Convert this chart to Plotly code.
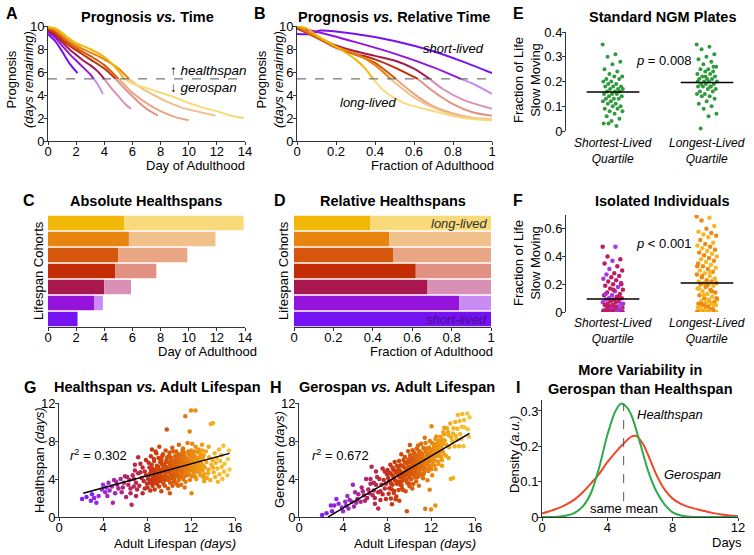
import numpy as np
import plotly.graph_objects as go

W, H = 754, 555
FONT = "Liberation Sans, Arial, Helvetica, sans-serif"
AX = "#333333"

# ---------------- cohort data ----------------
cohort_names = ["violet", "purple", "crimson", "red", "dark orange", "orange", "yellow"]
dark_colors = ["#7412F2", "#9414DC", "#A8184E", "#C22D06", "#D4570C", "#E6840F", "#F2B807"]
light_colors = ["#B98AF5", "#C88CF2", "#D890B5", "#E29282", "#E9A684", "#F1C18B", "#F8DA7A"]
threshold = 5.4

# Panel A: prognosis vs day of adulthood
a_days_violet = [0, 0.5, 1.0, 1.5, 2.1]
a_prog_violet = [9.3, 8.7, 7.8, 6.8, 5.9]
a_days_purple = [0, 0.5, 1, 1.5, 2, 2.5, 3, 3.5, 3.9]
a_prog_purple = [9.5, 9.0, 8.3, 7.6, 7.0, 6.4, 5.8, 5.0, 4.1]
a_days_crimson = [0, 0.5, 1, 1.5, 2, 2.5, 3, 3.5, 4, 4.5, 5, 5.5, 5.9]
a_prog_crimson = [9.6, 9.2, 8.6, 8.0, 7.5, 7.0, 6.6, 6.1, 5.4, 4.6, 3.9, 3.2, 2.8]
a_days_red = [0, 0.5, 1, 1.5, 2, 3, 4, 4.8, 5.5, 6, 6.5, 7, 7.8]
a_prog_red = [9.7, 9.4, 8.8, 8.3, 7.9, 7.1, 6.3, 5.4, 4.5, 3.9, 3.3, 2.8, 2.2]
a_days_dkorange = [0, 0.5, 1, 1.5, 2, 3, 4, 5, 5.5, 6, 7, 8, 9, 10]
a_prog_dkorange = [9.8, 9.5, 9.0, 8.5, 8.1, 7.4, 6.6, 5.4, 4.8, 4.2, 3.3, 2.6, 2.1, 1.8]
a_days_orange = [0, 0.5, 1, 1.5, 2, 3, 4, 5, 5.75, 6.5, 7.5, 8.5, 9.5, 10.5, 11.9]
a_prog_orange = [9.9, 9.7, 9.2, 8.7, 8.3, 7.7, 7.1, 6.3, 5.4, 4.7, 4.0, 3.4, 2.9, 2.6, 2.2]
a_days_yellow = [0, 0.5, 1, 1.5, 2, 3, 4, 5, 5.4, 6, 7, 8, 9, 10, 11, 12, 13, 13.9]
a_prog_yellow = [9.9, 9.8, 9.4, 8.9, 8.5, 8.0, 7.3, 6.1, 5.4, 5.0, 4.6, 4.2, 3.8, 3.3, 2.9, 2.6, 2.2, 2.0]

# Panel B: prognosis vs fraction of adulthood
b_frac_violet = [0, 0.07, 0.12, 0.3, 0.5, 0.7, 0.85, 1.0]
b_prog_violet = [9.3, 9.3, 9.6, 9.3, 8.7, 7.8, 6.9, 5.9]
b_frac_purple = [0, 0.1, 0.3, 0.5, 0.7, 0.84, 0.9, 1.0]
b_prog_purple = [9.8, 9.5, 8.6, 7.6, 6.4, 5.4, 5.0, 4.1]
b_frac_crimson = [0, 0.1, 0.2, 0.3, 0.4, 0.5, 0.6, 0.68, 0.75, 0.85, 1.0]
b_prog_crimson = [9.8, 9.1, 8.3, 7.8, 7.4, 7.0, 6.3, 5.4, 4.5, 3.6, 2.8]
b_frac_red = [0, 0.1, 0.2, 0.3, 0.4, 0.5, 0.56, 0.62, 0.7, 0.8, 0.9, 1.0]
b_prog_red = [9.8, 9.0, 8.2, 7.6, 7.1, 6.4, 5.9, 5.4, 4.3, 3.2, 2.5, 2.2]
b_frac_dkorange = [0, 0.1, 0.2, 0.3, 0.4, 0.5, 0.6, 0.7, 0.8, 0.9, 1.0]
b_prog_dkorange = [9.9, 9.0, 8.1, 7.5, 6.8, 5.5, 4.1, 3.0, 2.4, 2.0, 1.8]
b_frac_orange = [0, 0.1, 0.2, 0.3, 0.4, 0.48, 0.6, 0.7, 0.8, 0.9, 1.0]
b_prog_orange = [10.0, 9.1, 8.2, 7.6, 6.6, 5.4, 3.8, 2.9, 2.3, 2.0, 1.9]
b_frac_yellow = [0, 0.05, 0.1, 0.2, 0.3, 0.35, 0.39, 0.45, 0.55, 0.7, 0.85, 1.0]
b_prog_yellow = [10.0, 9.8, 9.2, 8.2, 7.1, 6.3, 5.4, 4.3, 3.3, 2.6, 2.0, 1.8]

# Panels C/D: healthspan and lifespan of each cohort (days)
cohort_healthspan = [2.1, 3.27, 4.0, 4.76, 5.0, 5.75, 5.4]
cohort_lifespan = [2.1, 3.9, 5.9, 7.7, 9.9, 11.9, 13.9]

# Panel E: fraction of life slow moving (standard NGM plates)
e_shortest = [0.35, 0.31, 0.30, 0.28, 0.27, 0.25, 0.24, 0.23, 0.22, 0.22, 0.21, 0.21, 0.20, 0.20,
              0.19, 0.19, 0.18, 0.18, 0.18, 0.17, 0.17, 0.17, 0.16, 0.16, 0.16, 0.15, 0.15, 0.15,
              0.14, 0.14, 0.13, 0.13, 0.13, 0.12, 0.12, 0.11, 0.11, 0.10, 0.10, 0.09, 0.09, 0.08,
              0.08, 0.07, 0.06, 0.05, 0.04, 0.03, 0.02, 0.03]
e_longest = [0.35, 0.34, 0.33, 0.31, 0.30, 0.29, 0.28, 0.27, 0.26, 0.25, 0.25, 0.24, 0.24, 0.23,
             0.23, 0.22, 0.22, 0.21, 0.21, 0.21, 0.20, 0.20, 0.20, 0.19, 0.19, 0.19, 0.18, 0.18,
             0.18, 0.17, 0.17, 0.16, 0.16, 0.15, 0.15, 0.14, 0.14, 0.13, 0.12, 0.11, 0.10, 0.09,
             0.07, 0.06, 0.01, 0.26, 0.22, 0.20, 0.18]
e_medians = [0.158, 0.196]

# Panel F: isolated individuals
f_shortest = [0.47, 0.47, 0.40, 0.38, 0.37, 0.35, 0.33, 0.31, 0.30, 0.28, 0.27, 0.26, 0.25, 0.24,
              0.23, 0.22, 0.21, 0.20, 0.19, 0.18, 0.17, 0.16, 0.15, 0.14, 0.13, 0.12, 0.12, 0.11,
              0.10, 0.10, 0.09, 0.09, 0.08, 0.08, 0.07, 0.07, 0.06, 0.06, 0.05, 0.05, 0.04, 0.04,
              0.03, 0.03, 0.02, 0.02, 0.02, 0.01, 0.01, 0.01, 0.20, 0.16, 0.13, 0.11, 0.08, 0.06,
              0.04, 0.03, 0.02, 0.01, 0, 0, 0, 0, 0, 0, 0, 0, 0, 0, 0, 0, 0, 0, 0, 0, 0, 0, 0,
              0, 0, 0, 0, 0, 0]
f_longest = [0.69, 0.68, 0.66, 0.62, 0.60, 0.58, 0.57, 0.56, 0.55, 0.54, 0.52, 0.50, 0.49, 0.48,
             0.47, 0.46, 0.45, 0.44, 0.43, 0.42, 0.41, 0.40, 0.39, 0.38, 0.37, 0.36, 0.35, 0.34,
             0.33, 0.32, 0.31, 0.30, 0.29, 0.28, 0.27, 0.26, 0.25, 0.24, 0.23, 0.22, 0.22, 0.21,
             0.21, 0.20, 0.20, 0.19, 0.18, 0.17, 0.16, 0.15, 0.14, 0.13, 0.12, 0.11, 0.10, 0.09,
             0.08, 0.08, 0.07, 0.07, 0.06, 0.06, 0.05, 0.05, 0.04, 0.03, 0.02, 0.01, 0.33, 0.29,
             0.26, 0.24, 0.19, 0.17, 0.15, 0.12, 0.10, 0.09, 0.06, 0.05, 0.04, 0.03, 0.02, 0.01,
             0, 0, 0, 0, 0, 0, 0, 0, 0, 0, 0, 0, 0, 0, 0, 0, 0, 0, 0, 0]
f_medians = [0.094, 0.21]
quartile_labels = ["Shortest-Lived<br>Quartile", "Longest-Lived<br>Quartile"]

# Panels G/H: individual adult lifespans and healthspans (days)
lifespan_days = [
    2.1, 2.5, 2.9, 3.2, 3.4, 3.6, 3.9, 4.0, 4.2, 4.3,
    4.5, 4.6, 4.8, 5.0, 5.1, 5.3, 5.4, 5.6, 5.7, 5.9,
    6.0, 6.1, 3.0, 4.4, 5.2, 4.9, 5.8, 6.3, 6.5, 6.6,
    6.2, 6.4, 6.7, 6.8, 6.9, 7.0, 7.1, 7.2, 7.3, 7.4,
    7.5, 7.6, 7.7, 7.8, 7.9, 7.2, 6.9, 7.6, 7.8, 6.5,
    7.0, 7.4, 7.9, 8.0, 6.8, 8.1, 8.15, 8.05, 8.3, 8.35,
    8.25, 8.3, 8.5, 8.55, 8.45, 8.5, 8.7, 8.75, 8.65, 8.7,
    8.9, 8.95, 8.85, 8.9, 9.1, 9.15, 9.05, 9.1, 9.12, 9.3,
    9.35, 9.25, 9.3, 9.32, 9.5, 9.55, 9.45, 9.5, 9.52, 9.7,
    9.75, 9.65, 9.7, 9.72, 9.8, 9.9, 9.95, 9.85, 9.9, 9.92,
    10.1, 10.15, 10.05, 10.1, 10.12, 10.08, 10.3, 10.35, 10.25, 10.3,
    10.32, 10.28, 10.5, 10.55, 10.45, 10.5, 10.52, 10.48, 10.7, 10.75,
    10.65, 10.7, 10.72, 10.68, 10.9, 10.95, 10.85, 10.9, 10.92, 10.88,
    11.1, 11.15, 11.05, 11.1, 11.12, 11.08, 11.3, 11.35, 11.25, 11.3,
    11.32, 11.28, 11.5, 11.55, 11.45, 11.5, 11.52, 11.48, 11.7, 11.75,
    11.65, 11.7, 11.72, 11.68, 11.9, 11.95, 11.85, 11.9, 11.92, 11.88,
    12.0, 12.05, 11.98, 12.02, 12.2, 12.25, 12.15, 12.2, 12.22, 12.4,
    12.45, 12.35, 12.4, 12.42, 12.38, 12.6, 12.65, 12.55, 12.6, 12.8,
    12.85, 12.75, 12.8, 13.0, 13.05, 12.95, 13.0, 13.2, 13.25, 13.15,
    13.2, 13.4, 13.45, 13.35, 13.6, 13.65, 13.55, 13.6, 13.8, 13.85,
    13.75, 14.0, 14.05, 13.95, 14.0, 14.2, 14.25, 14.15, 14.4, 14.45,
    14.35, 14.6, 14.65, 14.55, 14.8, 14.85, 14.75, 15.0, 15.05, 14.95,
    15.3, 15.35, 15.5, 15.45, 8.2, 8.22, 8.4, 8.42, 8.38, 8.6,
    8.62, 8.58, 8.8, 8.82, 8.78, 9.0, 9.02, 8.98, 9.2, 9.22,
    9.18, 9.4, 9.42, 9.38, 9.6, 9.62, 9.58, 9.8, 9.82, 9.78,
    10.0, 10.02, 9.98, 10.03, 10.2, 10.22, 10.18, 10.4, 10.42, 10.38,
    10.43, 10.6, 10.62, 10.58, 10.63, 10.8, 10.82, 10.78, 10.83, 11.0,
    11.02, 10.98, 11.03, 11.2, 11.22, 11.18, 11.23, 11.4, 11.42, 11.38,
    11.43, 11.6, 11.62, 11.58, 11.8, 11.82, 11.78, 12.1, 12.12, 12.08,
    12.3, 12.32, 12.28, 12.5, 12.52, 12.48, 12.7, 12.72, 12.68, 12.9,
    12.92, 13.1, 13.12, 13.08, 9.6, 10.4, 11.0, 11.6, 12.1, 13.0,
]
healthspan_days = [
    1.9, 2.1, 1.7, 2.0, 1.5, 2.2, 2.9, 3.4, 2.6, 3.1,
    3.6, 2.8, 3.2, 3.9, 2.5, 3.4, 3.0, 4.0, 2.6, 3.6,
    4.3, 2.1, 2.4, 2.2, 3.7, 1.5, 3.1, 3.4, 2.5, 1.3,
    4.2, 3.9, 4.4, 3.2, 4.9, 3.6, 2.9, 4.6, 3.3, 5.6,
    4.1, 2.5, 3.8, 4.8, 6.0, 6.3, 5.5, 5.2, 3.0, 3.0,
    2.2, 4.7, 4.4, 3.5, 4.0, 4.0, 5.7, 3.1, 4.6, 6.4,
    3.6, 2.8, 5.1, 4.2, 7.1, 3.3, 4.8, 3.9, 5.9, 2.9,
    5.4, 4.4, 6.7, 3.5, 4.1, 5.0, 6.2, 3.2, 7.4, 4.7,
    5.6, 3.8, 2.7, 6.0, 5.2, 4.3, 6.6, 3.5, 4.9, 4.6,
    5.8, 3.9, 7.0, 5.3, 9.2, 5.1, 4.0, 6.3, 4.8, 3.0,
    5.5, 4.4, 6.8, 3.6, 5.0, 2.5, 4.9, 5.9, 4.2, 7.3,
    3.3, 5.4, 5.2, 6.4, 4.5, 3.8, 5.7, 4.1, 5.6, 4.8,
    6.9, 3.5, 5.1, 6.1, 5.0, 6.2, 4.3, 7.6, 5.4, 3.9,
    5.7, 4.6, 6.6, 3.4, 5.2, 6.0, 5.3, 6.8, 4.9, 4.0,
    5.8, 7.2, 5.9, 4.7, 6.3, 3.7, 5.5, 10.6, 5.4, 6.9,
    4.4, 6.1, 5.0, 7.8, 6.0, 4.9, 6.5, 3.9, 5.6, 9.0,
    11.2, 2.5, 5.3, 7.0, 5.8, 4.6, 6.7, 5.2, 6.2, 11.2,
    5.5, 6.4, 4.2, 7.4, 5.9, 5.1, 6.8, 4.8, 6.0, 5.7,
    4.4, 6.3, 5.3, 6.1, 4.9, 5.6, 7.0, 3.8, 5.2, 6.5,
    4.5, 5.8, 4.1, 6.9, 5.0, 6.3, 4.6, 7.4, 9.8, 5.5,
    3.9, 9.9, 4.7, 6.0, 5.2, 4.2, 5.7, 6.7, 5.1, 3.7,
    6.2, 4.5, 5.9, 7.1, 5.3, 4.0, 6.5, 4.8, 5.6, 7.5,
    4.4, 6.1, 5.0, 7.0, 4.4, 5.2, 3.9, 5.5, 4.9, 4.5,
    6.1, 3.6, 5.0, 4.1, 6.9, 4.6, 5.3, 3.7, 5.8, 4.4,
    4.9, 4.0, 5.5, 6.4, 4.9, 3.3, 5.6, 5.2, 4.2, 6.0,
    4.7, 5.8, 3.9, 6.5, 5.3, 4.1, 6.2, 4.6, 5.6, 6.9,
    3.7, 5.0, 4.3, 6.0, 5.4, 4.5, 5.8, 6.6, 3.3, 5.5,
    4.9, 6.4, 4.2, 5.0, 6.1, 4.5, 7.0, 5.6, 4.3, 6.5,
    3.1, 5.1, 6.0, 4.8, 5.7, 4.5, 6.7, 5.0, 6.3, 4.3,
    5.6, 6.9, 4.9, 5.3, 6.1, 4.0, 5.9, 4.7, 7.1, 5.0,
    6.6, 5.4, 4.2, 6.2, 5.0, 5.2, 5.6, 5.9, 7.7, 7.6,
]
healthspan_fit = {"slope": 0.316, "intercept": 1.80, "x_from": 2.2, "x_to": 15.5}
gerospan_fit = {"slope": 0.684, "intercept": -1.80, "x_from": 2.65, "x_to": 15.5}
healthspan_r2 = "0.302"
gerospan_r2 = "0.672"

# Panel I: density curves
i_days_health = [0, 0.5, 1, 1.5, 2, 2.5, 3, 3.5, 4, 4.5, 4.85, 5.2, 5.5, 6, 6.5, 7, 7.5, 8, 8.5, 9, 10, 11, 12]
i_dens_health = [0.0, 0.0, 0.001, 0.004, 0.012, 0.030, 0.068, 0.140, 0.232, 0.300, 0.321, 0.310,
                 0.285, 0.210, 0.130, 0.073, 0.036, 0.013, 0.004, 0.001, 0.0, 0.0, 0.0]
i_days_gero = [0, 0.5, 1, 1.5, 2, 2.5, 3, 3.5, 4, 4.5, 5, 5.5, 5.8, 6.2, 6.5, 7, 7.5, 8, 8.5, 9,
               9.5, 10, 10.5, 11, 11.5, 12]
i_dens_gero = [0.010, 0.017, 0.025, 0.036, 0.050, 0.070, 0.095, 0.122, 0.155, 0.183, 0.208, 0.228,
               0.229, 0.205, 0.175, 0.120, 0.078, 0.052, 0.037, 0.028, 0.022, 0.016, 0.011, 0.007,
               0.004, 0.002]
same_mean_day = 5.0

# ---------------- helpers ----------------
def px_x(x):
    return x / W

def px_y(y):
    return 1 - y / H

def fmt(v):
    return ("%g" % v)

def xaxis(left, right, rng, tv, anchor, show=True):
    d = dict(domain=[left / W, right / W], range=rng, anchor=anchor, showgrid=False,
             zeroline=False, fixedrange=True, automargin=False)
    if show:
        d.update(showline=True, linecolor=AX, linewidth=1, ticks="outside", ticklen=3,
                 tickwidth=1, tickcolor=AX, tickmode="array", tickvals=tv,
                 ticktext=[fmt(v) for v in tv], ticklabelstandoff=-5,
                 tickfont=dict(family=FONT, size=13, color="black"))
    else:
        d.update(showline=False, ticks="", showticklabels=False)
    return d

def yaxis(top, bottom, rng, tv, anchor, show=True):
    d = dict(domain=[1 - bottom / H, 1 - top / H], range=rng, anchor=anchor, showgrid=False,
             zeroline=False, fixedrange=True, automargin=False)
    if show:
        d.update(showline=True, linecolor=AX, linewidth=1, ticks="outside", ticklen=3,
                 tickwidth=1, tickcolor=AX, tickmode="array", tickvals=tv,
                 ticktext=[fmt(v) for v in tv], ticklabelstandoff=-3,
                 tickfont=dict(family=FONT, size=13, color="black"))
    else:
        d.update(showline=False, ticks="", showticklabels=False)
    return d

def split_at(xs, ys, thr):
    xs = list(xs); ys = list(ys)
    for k in range(1, len(ys)):
        if ys[k] < thr <= ys[k - 1]:
            if ys[k - 1] == thr:
                xc = xs[k - 1]
            else:
                t = (ys[k - 1] - thr) / (ys[k - 1] - ys[k])
                xc = xs[k - 1] + t * (xs[k] - xs[k - 1])
            hi_x = [x for x, y in zip(xs[:k], ys[:k]) if y > thr] + [xc]
            hi_y = [y for y in ys[:k] if y > thr] + [thr]
            lo_x = [xc] + xs[k:]
            lo_y = [thr] + ys[k:]
            return hi_x, hi_y, lo_x, lo_y
    return xs, ys, [], []

def jitter(n, width):
    return ((np.arange(n) * 0.6180339887) % 1.0 - 0.5) * 2 * width

fig = go.Figure()

# ---------------- Panel A & B curves ----------------
a_curves = [(a_days_violet, a_prog_violet), (a_days_purple, a_prog_purple),
            (a_days_crimson, a_prog_crimson), (a_days_red, a_prog_red),
            (a_days_dkorange, a_prog_dkorange), (a_days_orange, a_prog_orange),
            (a_days_yellow, a_prog_yellow)]
b_curves = [(b_frac_violet, b_prog_violet), (b_frac_purple, b_prog_purple),
            (b_frac_crimson, b_prog_crimson), (b_frac_red, b_prog_red),
            (b_frac_dkorange, b_prog_dkorange), (b_frac_orange, b_prog_orange),
            (b_frac_yellow, b_prog_yellow)]

for curves, xa_, ya_ in [(a_curves, "x", "y"), (b_curves, "x2", "y2")]:
    for i, (xs, ys) in enumerate(curves):
        hx, hy, lx, ly = split_at(xs, ys, threshold)
        if lx:
            fig.add_trace(go.Scatter(x=lx, y=ly, mode="lines", xaxis=xa_, yaxis=ya_,
                                     line=dict(color=light_colors[i], width=2, shape="spline", smoothing=0.8),
                                     hoverinfo="skip"))
        fig.add_trace(go.Scatter(x=hx, y=hy, mode="lines", xaxis=xa_, yaxis=ya_,
                                 line=dict(color=dark_colors[i], width=2, shape="spline", smoothing=0.8),
                                 hoverinfo="skip"))

# ---------------- Panel C & D bars ----------------
idx = list(range(len(cohort_names)))
health = np.array(cohort_healthspan)
life = np.array(cohort_lifespan)
frac = health / life
fig.add_trace(go.Bar(y=idx, x=health, base=0, orientation="h", xaxis="x4", yaxis="y4",
                     marker=dict(color=dark_colors, line=dict(width=0)), hoverinfo="skip"))
fig.add_trace(go.Bar(y=idx, x=life - health, base=health, orientation="h", xaxis="x4", yaxis="y4",
                     marker=dict(color=light_colors, line=dict(width=0)), hoverinfo="skip"))
fig.add_trace(go.Bar(y=idx, x=frac, base=0, orientation="h", xaxis="x5", yaxis="y5",
                     marker=dict(color=dark_colors, line=dict(width=0)), hoverinfo="skip"))
fig.add_trace(go.Bar(y=idx, x=1 - frac, base=frac, orientation="h", xaxis="x5", yaxis="y5",
                     marker=dict(color=light_colors, line=dict(width=0)), hoverinfo="skip"))

# ---------------- Panel E ----------------
green = "#2F9B3C"
for k, vals in enumerate([e_shortest, e_longest]):
    xs = (k + 1) + jitter(len(vals), 0.11)
    fig.add_trace(go.Scatter(x=xs, y=vals, mode="markers", xaxis="x3", yaxis="y3",
                             marker=dict(color=green, size=4), hoverinfo="skip"))
    fig.add_trace(go.Scatter(x=[k + 1 - 0.28, k + 1 + 0.28], y=[e_medians[k]] * 2, mode="lines",
                             xaxis="x3", yaxis="y3", line=dict(color="black", width=1.5),
                             hoverinfo="skip"))

# ---------------- Panel F ----------------
f_cols_short = ["#A535E6" if i % 3 == 1 else "#C01B63" for i in range(len(f_shortest))]
f_cols_long = ["#F5B820" if i % 2 == 1 else "#EE8A10" for i in range(len(f_longest))]
for k, (vals, cols) in enumerate([(f_shortest, f_cols_short), (f_longest, f_cols_long)]):
    xs = (k + 1) + jitter(len(vals), 0.11)
    fig.add_trace(go.Scatter(x=xs, y=vals, mode="markers", xaxis="x6", yaxis="y6",
                             marker=dict(color=cols, size=4.5), hoverinfo="skip"))
    fig.add_trace(go.Scatter(x=[k + 1 - 0.28, k + 1 + 0.28], y=[f_medians[k]] * 2, mode="lines",
                             xaxis="x6", yaxis="y6", line=dict(color="black", width=1.5),
                             hoverinfo="skip"))

# ---------------- Panels G & H ----------------
life_ind = np.array(lifespan_days)
health_ind = np.array(healthspan_days)
gero_ind = life_ind - health_ind
lifescale = [[0.0, "#7A1CF5"], [0.15, "#9B2ADF"], [0.3, "#B0256E"], [0.42, "#BE2A30"],
             [0.5, "#CC3C0A"], [0.65, "#DC660C"], [0.78, "#EC9412"], [0.9, "#F2B320"],
             [1.0, "#F5C842"]]
for yvals, xa_, ya_, fit in [(health_ind, "x7", "y7", healthspan_fit),
                             (gero_ind, "x8", "y8", gerospan_fit)]:
    fig.add_trace(go.Scatter(x=life_ind, y=yvals, mode="markers", xaxis=xa_, yaxis=ya_,
                             marker=dict(color=life_ind, colorscale=lifescale, cmin=2, cmax=15.5,
                                         size=4.5, line=dict(width=0)), hoverinfo="skip"))
    fx = np.array([fit["x_from"], fit["x_to"]])
    fig.add_trace(go.Scatter(x=fx, y=fit["slope"] * fx + fit["intercept"], mode="lines",
                             xaxis=xa_, yaxis=ya_, line=dict(color="black", width=1.5),
                             hoverinfo="skip"))

# ---------------- Panel I ----------------
fig.add_trace(go.Scatter(x=i_days_gero, y=i_dens_gero, mode="lines", xaxis="x9", yaxis="y9",
                         line=dict(color="#F0462A", width=2, shape="spline", smoothing=0.8),
                         hoverinfo="skip"))
fig.add_trace(go.Scatter(x=i_days_health, y=i_dens_health, mode="lines", xaxis="x9", yaxis="y9",
                         line=dict(color="#2EAA4A", width=2, shape="spline", smoothing=0.8),
                         hoverinfo="skip"))

# ---------------- shapes ----------------
shapes = [
    dict(type="line", xref="x", yref="y", x0=0, x1=14, y0=threshold, y1=threshold,
         line=dict(color="#555555", width=1, dash="dash")),
    dict(type="line", xref="x2", yref="y2", x0=0, x1=1, y0=threshold, y1=threshold,
         line=dict(color="#555555", width=1, dash="dash")),
    dict(type="line", xref="x9", yref="y9", x0=same_mean_day, x1=same_mean_day, y0=0.045,
         y1=max(i_dens_health), line=dict(color="#555555", width=1, dash="dash")),
]

# ---------------- annotations ----------------
def ann(text, x, y, size=13, xanchor="center", angle=0, color="black"):
    return dict(text=text, x=px_x(x), y=px_y(y), xref="paper", yref="paper", showarrow=False,
                xanchor=xanchor, yanchor="middle", textangle=angle,
                font=dict(family=FONT, size=size, color=color))

anns = []
for letter, x, y in [("A", 12, 14), ("B", 260, 14), ("E", 518, 14), ("C", 29, 200),
                     ("D", 280, 200), ("F", 518, 200), ("G", 30, 387), ("H", 276, 387),
                     ("I", 518, 387)]:
    anns.append(ann("<b>%s</b>" % letter, x, y, size=16))

for text, x, y in [("Prognosis <i>vs.</i> Time", 147, 17),
                   ("Prognosis <i>vs.</i> Relative Time", 394, 17),
                   ("Standard NGM Plates", 662, 17),
                   ("Absolute Healthspans", 146, 201),
                   ("Relative Healthspans", 393, 201),
                   ("Isolated Individuals", 662, 201),
                   ("Healthspan <i>vs.</i> Adult Lifespan", 157, 387),
                   ("Gerospan <i>vs.</i> Adult Lifespan", 397, 387),
                   ("More Variability in<br>Gerospan than Healthspan", 640, 379)]:
    anns.append(ann("<b>%s</b>" % text, x, y, size=14.5))

for text, x, y in [("Prognosis<br><i>(days remaining)</i>", 20, 80),
                   ("Prognosis<br><i>(days remaining)</i>", 270, 80),
                   ("Fraction of Life<br>Slow Moving", 527, 80),
                   ("Fraction of Life<br>Slow Moving", 527, 263),
                   ("Lifespan Cohorts", 38, 271),
                   ("Lifespan Cohorts", 283, 271),
                   ("Healthspan <i>(days)</i>", 39, 460),
                   ("Gerospan <i>(days)</i>", 279, 460),
                   ("Density <i>(a.u.)</i>", 514, 455)]:
    anns.append(ann(text, x, y, angle=-90))

for text, x, y in [("Day of Adulthood", 247, 165), ("Fraction of Adulthood", 496, 165),
                   ("Day of Adulthood", 259, 351), ("Fraction of Adulthood", 495, 351),
                   ("Adult Lifespan <i>(days)</i>", 238, 543),
                   ("Adult Lifespan <i>(days)</i>", 478, 543), ("Days", 744, 542)]:
    anns.append(ann(text, x, y, xanchor="right"))

for yq in (151, 331):
    anns.append(ann("<i>%s</i>" % quartile_labels[0], 613, yq, size=12))
    anns.append(ann("<i>%s</i>" % quartile_labels[1], 707, yq, size=12))

anns += [
    ann("<i>p</i> = 0.008", 664, 60),
    ann("<i>p</i> &lt; 0.001", 664, 244),
    ann("<i>r</i><sup>2</sup> = 0.%s" % healthspan_r2.split(".")[1], 99, 455),
    ann("<i>r</i><sup>2</sup> = 0.%s" % gerospan_r2.split(".")[1], 340, 455),
    ann("\u2191 <i>healthspan</i>", 168, 70, xanchor="left", size=13.5),
    ann("\u2193 <i>gerospan</i>", 168, 88, xanchor="left", size=13.5),
    ann("<i>short-lived</i>", 453, 48),
    ann("<i>long-lived</i>", 368, 102),
    ann("<i>long-lived</i>", 489, 223, xanchor="right", color="#333333"),
    ann("<i>short-lived</i>", 489, 319, xanchor="right", color="#4B0E8C"),
    ann("<i>Healthspan</i>", 635, 414, xanchor="left"),
    ann("<i>Gerospan</i>", 662, 474, xanchor="left"),
    ann("same mean", 624, 508),
]

layout = dict(
    width=W, height=H, margin=dict(l=0, r=0, t=0, b=0, pad=0),
    paper_bgcolor="white", plot_bgcolor="white", showlegend=False,
    barmode="overlay", bargap=0.1,
    font=dict(family=FONT, size=13, color="black"),
    shapes=shapes, annotations=anns,
    xaxis=xaxis(48, 245, [0, 14], [0, 2, 4, 6, 8, 10, 12, 14], "y"),
    yaxis=yaxis(26, 141, [0, 10], [0, 2, 4, 6, 8, 10], "x"),
    xaxis2=xaxis(297, 492, [0, 1], [0, 0.2, 0.4, 0.6, 0.8, 1], "y2"),
    yaxis2=yaxis(26, 141, [0, 10], [0, 2, 4, 6, 8, 10], "x2"),
    xaxis3=xaxis(566, 754, [0.5, 2.5], [], "y3", show=False),
    yaxis3=yaxis(32, 131, [0, 0.4], [0, 0.1, 0.2, 0.3, 0.4], "x3"),
    xaxis4=xaxis(48, 245, [0, 14], [0, 2, 4, 6, 8, 10, 12, 14], "y4"),
    yaxis4=yaxis(215, 327, [-0.5, 6.5], [], "x4", show=False),
    xaxis5=xaxis(294, 491, [0, 1], [0, 0.2, 0.4, 0.6, 0.8, 1], "y5"),
    yaxis5=yaxis(215, 327, [-0.5, 6.5], [], "x5", show=False),
    xaxis6=xaxis(566, 754, [0.5, 2.5], [], "y6", show=False),
    yaxis6=yaxis(215, 312, [0, 0.7], [0, 0.2, 0.4, 0.6], "x6"),
    xaxis7=xaxis(59, 235, [0, 16], [0, 4, 8, 12, 16], "y7"),
    yaxis7=yaxis(403, 517, [0, 12], [0, 4, 8, 12], "x7"),
    xaxis8=xaxis(299, 475, [0, 16], [0, 4, 8, 12, 16], "y8"),
    yaxis8=yaxis(403, 517, [0, 12], [0, 4, 8, 12], "x8"),
    xaxis9=xaxis(542, 738, [0, 12], [0, 4, 8, 12], "y9"),
    yaxis9=yaxis(400, 517, [0, 0.331], [0, 0.1, 0.2, 0.3], "x9"),
)
fig.update_layout(**layout)
fig.write_html("out.html", config={"displayModeBar": False},
               post_script="document.body.style.margin='0px';")
